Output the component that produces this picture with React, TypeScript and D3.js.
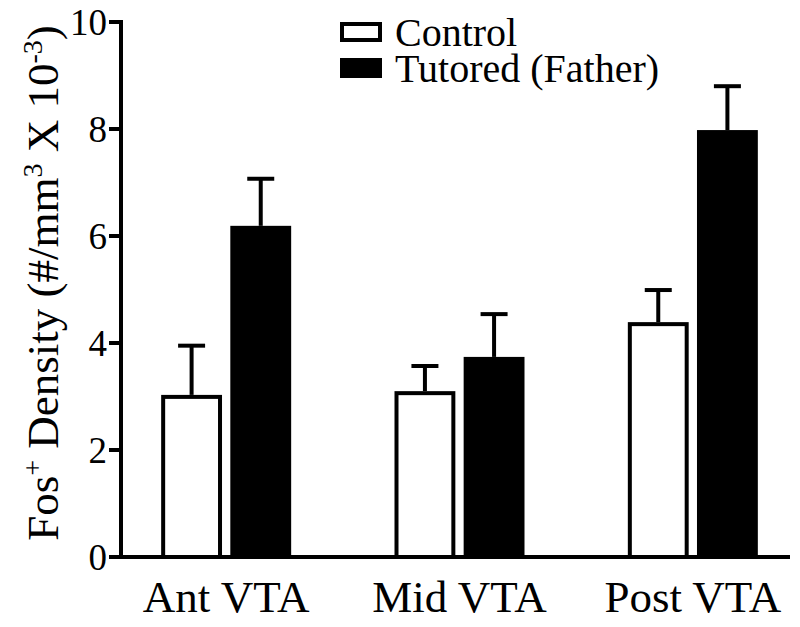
import React from "react";
import * as d3 from "d3";

const categories = ["Ant VTA", "Mid VTA", "Post VTA"];
const seriesNames = ["Control", "Tutored (Father)"];
const controlMeans = [3.03, 3.1, 4.39];
const controlErr = [0.92, 0.47, 0.6];
const tutoredMeans = [6.19, 3.74, 7.98];
const tutoredErr = [0.88, 0.8, 0.82];
const yTicks = [0, 2, 4, 6, 8, 10];

const W = 800;
const H = 627;
const FONT = "Times New Roman";

export default function App() {
  const y = d3.scaleLinear().domain([0, 10]).range([557, 22]);
  const x = d3.scaleBand<string>().domain(categories).range([109.5, 809.5]);
  const inner = d3
    .scaleBand<string>()
    .domain(seriesNames)
    .range([-65, 65])
    .paddingInner(0.12);
  const axisX = 121;
  const sw = 4;

  const series = [
    { name: seriesNames[0], means: controlMeans, errs: controlErr, fill: "#fff" },
    { name: seriesNames[1], means: tutoredMeans, errs: tutoredErr, fill: "#000" },
  ];

  return (
    <svg width={W} height={H} fontFamily={FONT} style={{ display: "block", margin: "-8px 0 0 -8px" }}>
      <rect x={0} y={0} width={W} height={H} fill="#fff" />
      {series.map((s) =>
        categories.map((c, i) => {
          const cx = x(c)! + x.bandwidth() / 2;
          const x0 = cx + inner(s.name)!;
          const bw = inner.bandwidth();
          const top = y(s.means[i]);
          const errTop = y(s.means[i] + s.errs[i]);
          const mid = x0 + bw / 2;
          return (
            <g key={s.name + c}>
              <line x1={mid} x2={mid} y1={top} y2={errTop} stroke="#000" strokeWidth={sw} />
              <line x1={mid - 13.5} x2={mid + 13.5} y1={errTop} y2={errTop} stroke="#000" strokeWidth={sw} />
              <rect
                x={x0 + sw / 2}
                y={top + sw / 2}
                width={bw - sw}
                height={y(0) - top - sw / 2}
                fill={s.fill}
                stroke="#000"
                strokeWidth={sw}
              />
            </g>
          );
        })
      )}
      <line x1={axisX} x2={axisX} y1={y(10) - 2} y2={y(0) + 2} stroke="#000" strokeWidth={sw} />
      <line x1={axisX - 2} x2={790} y1={y(0)} y2={y(0)} stroke="#000" strokeWidth={sw} />
      {yTicks.map((t) => (
        <g key={t}>
          <line x1={axisX - 12} x2={axisX} y1={y(t)} y2={y(t)} stroke="#000" strokeWidth={sw} />
          <text x={axisX - 14} y={y(t)} dy="0.35em" textAnchor="end" fontFamily={FONT} fontSize={37} fill="#000">
            {t}
          </text>
        </g>
      ))}
      {categories.map((c) => (
        <text
          key={c}
          x={x(c)! + x.bandwidth() / 2}
          y={612}
          textAnchor="middle"
          fontFamily={FONT}
          fontSize={45}
          fill="#000"
        >
          {c}
        </text>
      ))}
      <text
        transform={`translate(58, 283) rotate(-90)`}
        textAnchor="middle"
        fontFamily={FONT}
        fontSize={45}
        fill="#000"
      >
        Fos<tspan dy="-16" fontSize={28}>+</tspan>
        <tspan dy="16"> Density (#/mm</tspan>
        <tspan dy="-16" fontSize={28}>3</tspan>
        <tspan dy="16"> X 10</tspan>
        <tspan dy="-16" fontSize={28}>-3</tspan>
        <tspan dy="16">)</tspan>
      </text>
      {series.map((s, i) => (
        <g key={s.name} transform={`translate(340, ${22 + i * 36})`}>
          <rect x={2} y={2} width={38} height={16} fill={s.fill} stroke="#000" strokeWidth={sw} />
          <text x={55} y={24} fontFamily={FONT} fontSize={40} fill="#000">
            {s.name}
          </text>
        </g>
      ))}
    </svg>
  );
}
